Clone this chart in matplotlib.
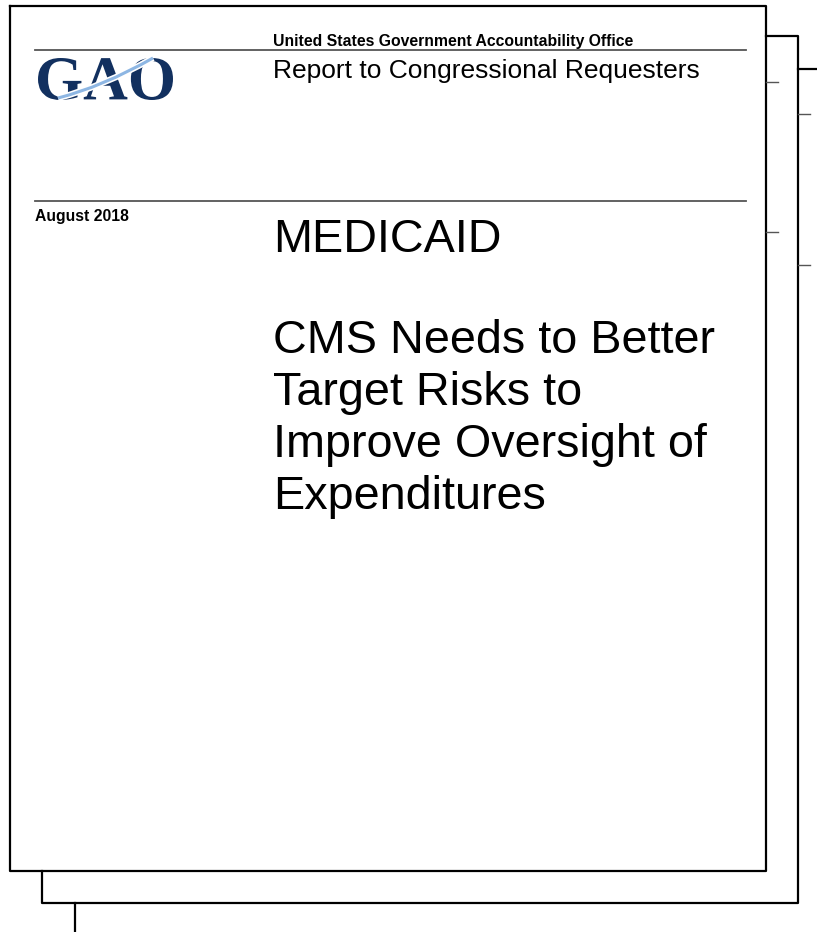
import matplotlib.pyplot as plt
from matplotlib.textpath import TextPath
from matplotlib.font_manager import FontProperties
from matplotlib.patches import PathPatch
from matplotlib.path import Path
from matplotlib.transforms import Affine2D

plt.rcParams['font.family'] = ['Liberation Sans', 'DejaVu Sans']

# texts on the cover
agency = "United States Government Accountability Office"
report_type = "Report to Congressional Requesters"
logo_text = "GAO"
date_text = "August 2018"
topic = "MEDICAID"
title_lines = ["CMS Needs to Better", "Target Risks to",
               "Improve Oversight of", "Expenditures"]

W, H = 817, 932
fig = plt.figure(figsize=(W / 100, H / 100), dpi=100)
ax = fig.add_axes([0, 0, 1, 1])
ax.set_xlim(0, W)
ax.set_ylim(H, 0)
ax.axis("off")

# stacked page outlines
k = dict(color="black", lw=1.6, solid_capstyle="projecting")
ax.plot([10, 766, 766, 10, 10], [6, 6, 871, 871, 6], **k)
ax.plot([766, 798, 798, 42, 42], [36, 36, 903, 903, 871], **k)
ax.plot([798, 817], [69, 69], **k)
ax.plot([75, 75], [903, 932], **k)
t = dict(color="#555555", lw=1.0)
for x0, y0 in [(766, 82), (766, 232), (798, 114), (798, 265)]:
    ax.plot([x0, x0 + 12], [y0, y0], **t)

# rules
ax.plot([35, 746], [50, 50], color="#555555", lw=1.3)
ax.plot([35, 746], [201, 201], color="#555555", lw=1.3)

# header text
ax.text(273, 46, agency, fontsize=11.3, fontweight="bold", va="baseline")
ax.text(273, 78, report_type, fontsize=19, va="baseline")
ax.text(35, 221, date_text, fontsize=11.3, fontweight="bold", va="baseline")

# logo
fp = FontProperties(family="Liberation Serif", weight="bold")
tp = TextPath((0, 0), logo_text, size=100, prop=fp)
bb = tp.get_extents()
tr = (Affine2D().translate(-bb.x0, -bb.y0)
      .scale(135 / bb.width, -42 / bb.height).translate(38, 100))
ax.add_patch(PathPatch(tr.transform_path(tp), fc="#12305f", ec="none"))
sw = Path([(58, 98), (102, 87), (153, 58)], [Path.MOVETO, Path.CURVE3, Path.CURVE3])
ax.add_patch(PathPatch(sw, fc="none", ec="white", lw=4.5))
ax.add_patch(PathPatch(sw, fc="none", ec="#8db6e3", lw=2.2))

# title
ax.text(273, 252, topic, fontsize=33.7, va="baseline")
for i, line in enumerate(title_lines):
    ax.text(273, 353 + 52 * i, line, fontsize=33.7, va="baseline")

fig.savefig("out.png", dpi=100, facecolor="white")
